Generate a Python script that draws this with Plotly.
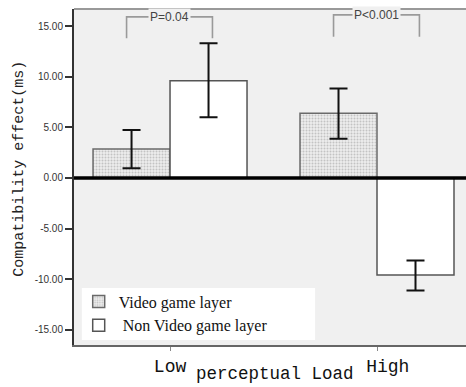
import plotly.graph_objects as go

# ---- data ----
categories = ["Low", "High"]
cat_pos = [0, 1]
video_vals = [2.85, 6.38]
video_err_plus = [1.88, 2.45]
video_err_minus = [1.90, 2.52]
nonvideo_vals = [9.6, -9.58]
nonvideo_err_plus = [3.7, 1.42]
nonvideo_err_minus = [3.6, 1.52]
series_names = ["Video game layer", " Non Video game layer"]
p_labels = ["P=0.04", "P<0.001"]
p_top = [15.9, 16.1]
p_bottom = [13.8, 13.95]
y_ticks = [15, 10, 5, 0, -5, -10, -15]
y_ticktext = ["15.00", "10.00", "5.00", "0.00", "-5.00", "-10.00", "-15.00"]

mono = "Liberation Mono, Courier New, monospace"
serif = "Liberation Serif, Times New Roman, serif"
sans = "Liberation Sans, Arial, sans-serif"

fig = go.Figure()
fig.add_trace(go.Bar(
    x=cat_pos, y=video_vals, name=series_names[0],
    marker=dict(color="#e4e4e4",
                pattern=dict(shape=".", fgcolor="#999999", bgcolor="#ececec",
                             size=3, solidity=0.35),
                line=dict(color="#6a6a6a", width=1.5)),
    error_y=dict(type="data", symmetric=False, array=video_err_plus,
                 arrayminus=video_err_minus, color="#111", thickness=2, width=9),
))
fig.add_trace(go.Bar(
    x=cat_pos, y=nonvideo_vals, name=series_names[1],
    marker=dict(color="white", line=dict(color="#555", width=1.5)),
    error_y=dict(type="data", symmetric=False, array=nonvideo_err_plus,
                 arrayminus=nonvideo_err_minus, color="#111", thickness=2, width=9),
))

shapes = []
annotations = []
for i, c in enumerate(cat_pos):
    x0 = c - 0.21
    x1 = c + 0.205
    shapes.append(dict(type="path", xref="x", yref="y",
                       path=f"M {x0} {p_bottom[i]} L {x0} {p_top[i]} L {x1} {p_top[i]} L {x1} {p_bottom[i]}",
                       line=dict(color="#9a9a9a", width=1.6)))
    annotations.append(dict(x=(x0 + x1) / 2, y=p_top[i], xref="x", yref="y",
                            text=p_labels[i], showarrow=False, yanchor="middle",
                            bgcolor="#f0f0f0", borderpad=1,
                            font=dict(family=sans, size=12, color="#444")))

# zero reference line drawn above bars
shapes.append(dict(type="line", xref="paper", yref="y", x0=0, x1=1, y0=0, y1=0,
                   line=dict(color="#000", width=3.5), layer="above"))
# top border of plot area
shapes.append(dict(type="line", xref="paper", yref="paper", x0=0, x1=1, y0=1, y1=1,
                   line=dict(color="#999", width=2)))
# legend box
shapes.append(dict(type="rect", xref="paper", yref="paper", x0=0.02, x1=0.615,
                   y0=0.015, y1=0.17, fillcolor="white", line=dict(width=0),
                   layer="above"))

annotations.append(dict(x=-0.14, y=0.525, xref="paper", yref="paper", xanchor="center",
                        text="Compatibility effect(ms)", textangle=-90,
                        showarrow=False, font=dict(family=mono, size=15, color="#222")))
annotations.append(dict(x=0.513, y=-0.0863, xref="paper", yref="paper", xanchor="center",
                        text="perceptual Load", showarrow=False, yanchor="middle",
                        borderpad=0,
                        font=dict(family=mono, size=17.5, color="#111")))

fig.update_layout(
    width=466, height=387,
    margin=dict(l=74, r=0, t=9, b=42),
    paper_bgcolor="white", plot_bgcolor="#f0f0f0",
    barmode="group", bargap=0.256, bargroupgap=0,
    showlegend=True,
    legend=dict(x=0.012, y=0.18, xanchor="left", yanchor="top",
                bgcolor="rgba(0,0,0,0)", font=dict(family=serif, size=16, color="#111"),
                tracegroupgap=0, itemwidth=30),
    shapes=shapes, annotations=annotations,
)
fig.update_xaxes(range=[-0.464, 1.43], tickvals=cat_pos,
                 ticktext=["Low", "\u00a0\u00a0High"],
                 tickfont=dict(family=mono, size=18, color="#111"),
                 showline=True, linecolor="#666", linewidth=1.5,
                 ticks="outside", ticklen=4, tickcolor="#888",
                 showgrid=False, zeroline=False, automargin=False)
fig.update_yaxes(range=[-16.49, 16.68], tickvals=y_ticks, ticktext=y_ticktext,
                 tickfont=dict(family=sans, size=10, color="#333"),
                 showline=True, linecolor="#333", linewidth=2,
                 ticks="outside", ticklen=7, tickcolor="#333", tickwidth=1.5,
                 showgrid=False, zeroline=False, automargin=False)

fig.write_html("out.html", config={"displayModeBar": False},
               post_script="document.body.style.margin='0';document.body.style.overflow='hidden';")
